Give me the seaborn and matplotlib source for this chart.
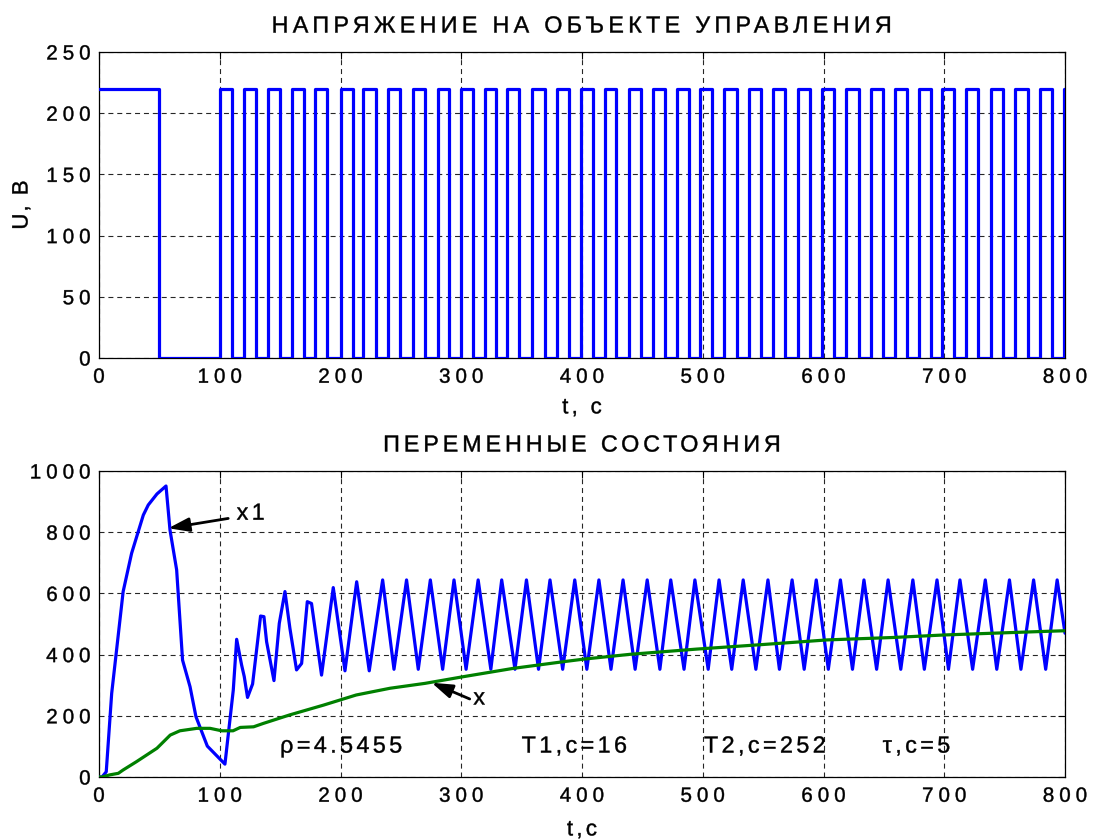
import numpy as np
import pandas as pd
import matplotlib
matplotlib.use("Agg")
import matplotlib.pyplot as plt
import seaborn as sns
from matplotlib.patheffects import AbstractPathEffect
from matplotlib.path import Path
from matplotlib.textpath import text_to_path

# ---- control voltage: switching instants (s) and level (V) ----
U_on = 220
rise_t = [0, 100, 120, 140, 160, 179, 200, 219, 239, 260, 281, 300, 320, 338,
          359, 379, 399, 419, 439, 459, 479, 498, 518, 538, 558, 579, 599, 619,
          639, 659, 679, 698, 718, 739, 759, 779, 799]
fall_t = [50, 110, 130, 150, 170, 189, 210, 229, 249, 270, 290, 310, 329, 348,
          369, 389, 409, 428, 449, 469, 489, 508, 528, 548, 568, 589, 609, 629,
          649, 669, 689, 708, 728, 749, 769, 789]
t_end = 800

# ---- state x1: start-up transient, then steady oscillation ----
x1_trans_t = [0, 2.5, 6, 10.5, 20, 27, 36.7, 40.8, 48, 55.5, 58.8, 64.3, 69.2,
              75.4, 80.3, 89.7, 104.3, 111.2, 114, 118.1, 120.3, 123, 127.2,
              133.8, 136.6, 138.8, 144.9, 149.3, 154, 158.1, 163.6, 167.8,
              172.5, 176, 184.3, 194, 203.7, 213.4, 223.8, 234.9]
x1_trans_v = [0, 0, 17, 273, 606, 731, 856, 889, 925, 951, 807, 677, 382,
              295, 197, 101, 42, 284, 450, 366, 328, 260, 304,
              526, 524, 442, 315, 502, 606, 486, 350, 371,
              573, 567, 333, 619, 347, 638, 347, 644]
peak_t = [254.7, 274.4, 294, 314, 333.5, 354, 373.5, 394, 414, 434, 454, 473.5,
          493.5, 513.5, 533.5, 554, 574, 594, 614, 633.5, 653.5, 674, 694, 713,
          734, 754, 774, 793.5]
peak_v = [644] * len(peak_t)
trough_t = [244.3, 264.4, 284.6, 304, 324.5, 344.5, 364, 384, 404, 424, 444,
            464.5, 484.5, 504.5, 524, 544, 563.5, 584, 604, 624, 644, 664,
            683.5, 703.5, 723.5, 743.5, 763.5, 784]
trough_v = [352] * len(trough_t)
x1_last_t, x1_last_v = 800, 470

# ---- state x ----
x_t = [0, 2.5, 9, 16, 20, 31, 48, 59, 67, 81, 92, 101.6, 111, 117, 128, 136,
       158, 186, 213, 241, 270, 302, 343, 385, 401, 440, 495, 550, 575, 603,
       658, 699, 741, 777, 800]
x_v = [0, 0, 7, 12, 23, 50, 94, 137, 151, 159, 159, 151, 151, 162, 164, 175,
       203, 235, 268, 290, 306, 328, 355, 377, 385, 401, 418, 433, 440, 448,
       456, 464, 470, 475, 478]

title_top = "НАПРЯЖЕНИЕ НА ОБЪЕКТЕ УПРАВЛЕНИЯ"
title_bottom = "ПЕРЕМЕННЫЕ СОСТОЯНИЯ"
ylabel_top = "U, В"
xlabel_top = "t, c"
xlabel_bottom = "t,c"
params = ["ρ=4.5455", "T1,c=16", "T2,c=252", "τ,c=5"]
params_t = [150, 350, 501, 649]


class Tracked(AbstractPathEffect):
    """Redraws a text with extra letter spacing (in pixels).

    ``frac`` keeps the anchor: 0 for left, 0.5 for centre, 1 for right.
    """

    def __init__(self, artist, track_px, frac, stroke=0.3):
        super().__init__()
        self.artist = artist
        self.track_px = track_px
        self.frac = frac
        self.stroke = stroke

    def draw_path(self, renderer, gc, tpath, affine, rgbFace=None):
        s = self.artist.get_text()
        font = text_to_path._get_font(self.artist.get_fontproperties())
        glyphs, gmap, _ = text_to_path.get_glyphs_with_font(font, s)
        m = affine.get_matrix()
        k = np.sqrt(abs(m[0, 0] * m[1, 1] - m[0, 1] * m[1, 0]))
        tr = self.track_px / k
        n = len(glyphs)
        shift0 = -self.frac * (n - 1) * tr
        verts, codes = [], []
        for i, (gid, xp, yp, sc) in enumerate(glyphs):
            v, c = gmap[gid]
            v = np.asarray(v, float).reshape(-1, 2)
            c = np.asarray(c).reshape(-1)
            if len(v) == 0:
                continue
            verts.append(v * sc + [xp + shift0 + i * tr, yp])
            codes.append(c)
        if not verts:
            return
        path = Path(np.concatenate(verts), np.concatenate(codes))
        gc0 = renderer.new_gc()
        gc0.copy_properties(gc)
        gc0.set_linewidth(self.stroke)
        if rgbFace is not None:
            gc0.set_foreground(rgbFace)
        renderer.draw_path(gc0, path, affine, rgbFace)
        gc0.restore()


def track(text, px, frac):
    text.set_path_effects([Tracked(text, px, frac)])


# ---- assemble tables ----
ev_t = rise_t + fall_t + [t_end]
ev_v = [U_on] * len(rise_t) + [0] * len(fall_t) + [U_on]
u_df = pd.DataFrame({"t": ev_t, "U": ev_v}).sort_values("t")

x1_df = pd.DataFrame({
    "t": x1_trans_t + peak_t + trough_t + [x1_last_t],
    "v": x1_trans_v + peak_v + trough_v + [x1_last_v],
}).sort_values("t")
x_df = pd.DataFrame({"t": x_t, "v": x_v})

sns.set_theme(style="white")
plt.rcParams["font.family"] = ["Liberation Sans", "DejaVu Sans"]
plt.rcParams["axes.unicode_minus"] = False
plt.rcParams["text.color"] = "black"
plt.rcParams["axes.labelcolor"] = "black"
plt.rcParams["xtick.color"] = "black"
plt.rcParams["ytick.color"] = "black"

fig = plt.figure(figsize=(10.98, 8.4), dpi=100)
ax1 = fig.add_axes([99 / 1098, 1 - 358 / 840, 966 / 1098, 306 / 840])
ax2 = fig.add_axes([99 / 1098, 1 - 777 / 840, 966 / 1098, 306 / 840])

BLUE = "#0000ff"
GREEN = "#008000"

sns.lineplot(data=u_df, x="t", y="U", ax=ax1, color=BLUE, lw=2.3,
             drawstyle="steps-post", estimator=None, sort=False, zorder=3)
sns.lineplot(data=x1_df, x="t", y="v", ax=ax2, color=BLUE, lw=2.3,
             estimator=None, sort=False, zorder=3)
sns.lineplot(data=x_df, x="t", y="v", ax=ax2, color=GREEN, lw=2.3,
             estimator=None, sort=False, zorder=4)

TICK_FS = 14.8
TEXT_FS = 16.8
LABEL_FS = 16

for ax, ymax, ystep in ((ax1, 250, 50), (ax2, 1000, 200)):
    ax.set_xlim(0, 800)
    ax.set_ylim(0, ymax)
    ax.set_xticks(np.arange(0, 801, 100))
    ax.set_yticks(np.arange(0, ymax + 1, ystep))
    ax.grid(True, color="black", linestyle=(0, (4.5, 3.5)), lw=0.8, alpha=0.85)
    ax.set_axisbelow(True)
    ax.tick_params(direction="in", length=5, width=0.8, top=True, right=True,
                   labelsize=TICK_FS, colors="black", pad=7)
    ax.tick_params(axis="y", pad=6)
    for s in ax.spines.values():
        s.set_color("black")
        s.set_linewidth(0.9)
        s.set_visible(True)
    ax.set_ylabel("")
    ax.set_xlabel("")
    for tk in ax.xaxis.get_major_ticks():
        track(tk.label1, 5.0, 0.5)
    for tk in ax.yaxis.get_major_ticks():
        track(tk.label1, 5.0, 1.0)

t1 = ax1.set_title(title_top, fontsize=TEXT_FS, pad=14)
t2 = ax2.set_title(title_bottom, fontsize=TEXT_FS, pad=14)
track(t1, 4.3, 0.5)
track(t2, 3.9, 0.5)

ax1.set_xlabel(xlabel_top, fontsize=LABEL_FS)
ax2.set_xlabel(xlabel_bottom, fontsize=LABEL_FS)
ax1.set_ylabel(ylabel_top, fontsize=LABEL_FS)
for ax, yoff in ((ax1, -0.163), (ax2, -0.173)):
    ax.xaxis.label.set_va("center")
    ax.xaxis.set_label_coords(0.5, yoff)
    track(ax.xaxis.label, 3.3, 0.5)
ax1.yaxis.label.set_va("center")
ax1.yaxis.set_label_coords(-0.0797, 0.5)
track(ax1.yaxis.label, 2.0, 0.5)

arrow_kw = dict(arrowstyle="-|>,head_length=0.9,head_width=0.3",
                color="black", lw=2, shrinkA=0, shrinkB=0, mutation_scale=14)
ax2.annotate("", xy=(57.4, 813), xytext=(107, 845), arrowprops=arrow_kw, zorder=6)
lab_x1 = ax2.text(114, 862, "x1", fontsize=TEXT_FS, ha="left", va="center", zorder=6)
ax2.annotate("", xy=(275.5, 308), xytext=(307, 255), arrowprops=arrow_kw, zorder=6)
lab_x = ax2.text(310, 258, "x", fontsize=TEXT_FS, ha="left", va="center", zorder=6)
track(lab_x1, 3.4, 0.0)
track(lab_x, 3.4, 0.0)

for txt, tx in zip(params, params_t):
    t = ax2.text(tx, 101, txt, fontsize=TEXT_FS, ha="left", va="center", zorder=6)
    track(t, 3.4, 0.0)

fig.savefig("out.png", dpi=100)
